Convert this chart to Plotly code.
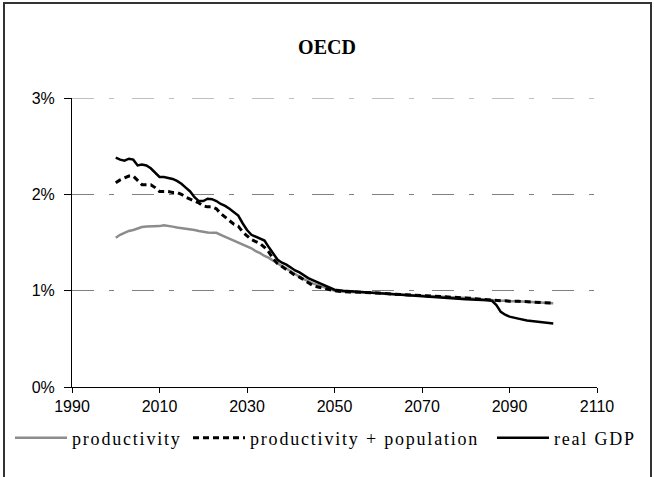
import plotly.graph_objects as go

# ---- data (values in %) ----
years = list(range(2000, 2051)) + [2052, 2055, 2060, 2065, 2070, 2075, 2080, 2085,
                                    2086, 2087, 2088, 2089, 2090, 2092, 2094, 2096, 2098, 2100]

productivity = [
    1.55, 1.58, 1.60, 1.62, 1.63, 1.645, 1.66, 1.665, 1.665, 1.665,
    1.67, 1.68, 1.675, 1.665, 1.655, 1.65, 1.64, 1.635, 1.63, 1.62,
    1.61, 1.605, 1.60, 1.60, 1.58, 1.56, 1.545, 1.525, 1.50, 1.48,
    1.46, 1.44, 1.41, 1.39, 1.36, 1.34, 1.31, 1.28, 1.255, 1.23,
    1.20, 1.17, 1.145, 1.12, 1.095, 1.075, 1.06, 1.045, 1.03, 1.015,
    1.00,
    0.99, 0.985, 0.975, 0.96, 0.95, 0.94, 0.925, 0.905,
    0.90, 0.90, 0.895, 0.895, 0.89, 0.89, 0.885, 0.88, 0.88, 0.87,
]

prod_pop = [
    2.12, 2.15, 2.17, 2.19, 2.19, 2.14, 2.10, 2.10, 2.10, 2.07,
    2.03, 2.03, 2.03, 2.02, 2.02, 2.00, 1.97, 1.95, 1.93, 1.91,
    1.88, 1.87, 1.87, 1.85, 1.80, 1.76, 1.72, 1.69, 1.67, 1.61,
    1.57, 1.53, 1.51, 1.49, 1.45, 1.40, 1.33, 1.28, 1.25, 1.22,
    1.19, 1.16, 1.14, 1.11, 1.08, 1.055, 1.04, 1.03, 1.02, 1.01,
    1.00,
    0.99, 0.985, 0.975, 0.96, 0.95, 0.94, 0.925, 0.905,
    0.90, 0.90, 0.895, 0.895, 0.89, 0.89, 0.885, 0.88, 0.88, 0.87,
]

real_gdp = [
    2.38, 2.36, 2.35, 2.37, 2.36, 2.30, 2.31, 2.30, 2.27, 2.22,
    2.18, 2.18, 2.17, 2.16, 2.14, 2.11, 2.07, 2.03, 1.97, 1.93,
    1.93, 1.955, 1.95, 1.93, 1.90, 1.88, 1.85, 1.81, 1.78, 1.70,
    1.63, 1.58, 1.56, 1.54, 1.52, 1.45, 1.38, 1.32, 1.29, 1.27,
    1.24, 1.21, 1.19, 1.16, 1.13, 1.11, 1.09, 1.07, 1.05, 1.03,
    1.01,
    1.00, 0.99, 0.98, 0.96, 0.945, 0.93, 0.91, 0.90,
    0.895, 0.85, 0.78, 0.75, 0.73, 0.71, 0.69, 0.68, 0.67, 0.66,
]

series_names = ["productivity", "productivity + population", "real GDP"]
title_text = "OECD"

# ---- layout geometry (pixels) ----
W, H = 654, 477
L, R, T, B = 72, 57, 98, 90
pw, ph = W - L - R, H - T - B

def px_x(x):
    return (x - L) / pw

def px_y(y):
    return (H - B - y) / ph

LEG_SPACING = "letter-spacing:1.8px"
leg_font = dict(family="Liberation Serif", size=18, color="black")
GRID_DASH = "22px,15px,5px,18px"

fig = go.Figure()
fig.add_trace(go.Scatter(
    x=years, y=productivity, mode="lines",
    name=f'<span style="{LEG_SPACING}">{series_names[0]}</span>',
    line=dict(color="#8c8c8c", width=2.5), legend="legend",
))
fig.add_trace(go.Scatter(
    x=years, y=prod_pop, mode="lines",
    name=f'<span style="{LEG_SPACING}">{series_names[1]}</span>',
    line=dict(color="black", width=3, dash="6px,4px"), legend="legend2",
))
fig.add_trace(go.Scatter(
    x=years, y=real_gdp, mode="lines",
    name=f'<span style="{LEG_SPACING}">{series_names[2]}</span>',
    line=dict(color="black", width=2.5), legend="legend3",
))

def leg(xpix):
    return dict(orientation="h", x=px_x(xpix), xanchor="left", y=px_y(438), yanchor="middle",
                itemwidth=52, font=leg_font, bgcolor="rgba(0,0,0,0)")

fig.update_layout(
    width=W, height=H,
    margin=dict(l=L, r=R, t=T, b=B, pad=0, autoexpand=False),
    paper_bgcolor="white", plot_bgcolor="white",
    title=dict(text=f"<b>{title_text}</b>", x=0.5, xref="container", xanchor="center",
               y=1 - 47 / H, yref="container", yanchor="middle",
               font=dict(family="Liberation Serif", size=20, color="black")),
    showlegend=True,
    legend=leg(10), legend2=leg(188), legend3=leg(492),
    xaxis=dict(range=[1990, 2110], tick0=1990, dtick=20, showgrid=False, zeroline=False,
               showline=True, linecolor="black", linewidth=1,
               ticks="outside", ticklen=5, tickcolor="black",
               tickfont=dict(family="Liberation Sans", size=16, color="black")),
    yaxis=dict(range=[0, 3], tick0=0, dtick=1, ticksuffix="%", zeroline=False,
               showgrid=True, gridcolor="#808080", gridwidth=1, griddash=GRID_DASH,
               showline=True, linecolor="black", linewidth=1,
               ticks="outside", ticklen=7, tickcolor="black", ticklabelstandoff=6,
               tickfont=dict(family="Liberation Sans", size=16, color="black")),
    shapes=[
        # top gridline (at the axis end, which Plotly clips from the grid)
        dict(type="line", xref="paper", yref="y", x0=0, x1=1, y0=3, y1=3,
             line=dict(color="#808080", width=1, dash=GRID_DASH), layer="below"),
        # outer chart frame
        dict(type="rect", xref="paper", yref="paper",
             x0=px_x(4), x1=px_x(651), y0=px_y(490), y1=px_y(3),
             line=dict(color="#333333", width=2), fillcolor="rgba(0,0,0,0)", layer="above"),
    ],
)

fig.write_html("out.html", config={"displayModeBar": False},
               post_script="document.body.style.margin='0';")
